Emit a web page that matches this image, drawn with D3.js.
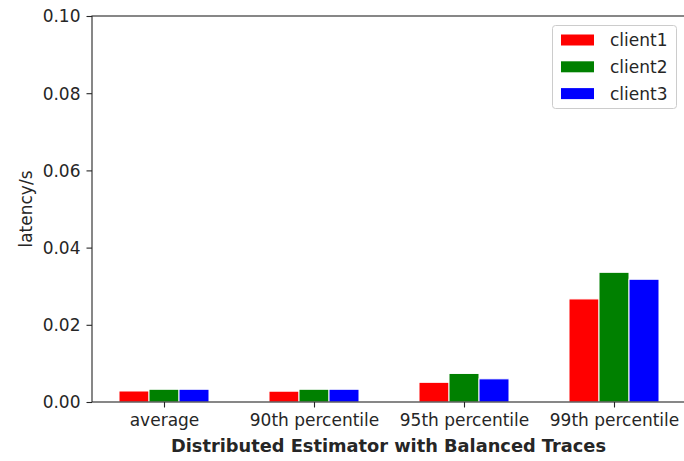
<!DOCTYPE html>
<html>
<head>
<meta charset="utf-8">
<script src="https://cdn.jsdelivr.net/npm/d3@7"></script>
<style>
  html, body { margin: 0; padding: 0; background: #fff; }
  svg { display: block; font-family: "DejaVu Sans", sans-serif; }
</style>
</head>
<body>
<svg id="chart" width="684" height="461"></svg>
<script>
// Latency of each client for each statistic
const categories = ["average", "90th percentile", "95th percentile", "99th percentile"];
const seriesNames = ["client1", "client2", "client3"];
const client1 = [0.00285, 0.0028, 0.0051, 0.0267];
const client2 = [0.0033, 0.0033, 0.0074, 0.0336];
const client3 = [0.0033, 0.0033, 0.0060, 0.0318];
const seriesColors = ["#ff0000", "#008000", "#0000ff"];
const yTicks = [0.00, 0.02, 0.04, 0.06, 0.08, 0.10];
const xTitle = "Distributed Estimator with Balanced Traces";
const yTitle = "latency/s";

const series = [client1, client2, client3];
const barWidth = 0.2;   // in category units
const offsets = [-0.2, 0, 0.2];

const svg = d3.select("#chart");
const plotLeft = 92, plotRight = 686, plotTop = 16, plotBottom = 402;
const fontSize = 17;
const textColor = "#262626";

const x = d3.scaleLinear().domain([-0.48, 3.48]).range([plotLeft, plotRight]);
const y = d3.scaleLinear().domain([0, 0.1]).range([plotBottom, plotTop]);

// bars
series.forEach((vals, si) => {
  svg.append("g")
    .selectAll("rect")
    .data(vals)
    .join("rect")
    .attr("x", (d, i) => x(i + offsets[si] - barWidth / 2))
    .attr("width", x(barWidth) - x(0))
    .attr("y", d => y(d))
    .attr("height", d => y(0) - y(d))
    .attr("fill", seriesColors[si])
    .attr("stroke", "#ffffff")
    .attr("stroke-width", 1);
});

// y axis
const yAxis = svg.append("g")
  .attr("transform", `translate(${plotLeft},0)`)
  .call(d3.axisLeft(y).tickValues(yTicks).tickFormat(d3.format(".2f")).tickSize(5.5).tickPadding(6));
yAxis.select(".domain").remove();

// x axis
const xAxis = svg.append("g")
  .attr("transform", `translate(0,${plotBottom})`)
  .call(d3.axisBottom(x).tickValues(d3.range(categories.length)).tickFormat(i => categories[i]).tickSize(5.5).tickPadding(6));
xAxis.select(".domain").remove();

[yAxis, xAxis].forEach(g => {
  g.selectAll("text").attr("font-size", fontSize).attr("font-family", "DejaVu Sans").attr("fill", textColor);
  g.selectAll("line").attr("stroke", textColor).attr("stroke-width", 1.1);
});
yAxis.selectAll("text").attr("dy", "0.35em");

// frame
svg.append("rect")
  .attr("x", plotLeft).attr("y", plotTop)
  .attr("width", plotRight - plotLeft).attr("height", plotBottom - plotTop)
  .attr("fill", "none").attr("stroke", textColor).attr("stroke-width", 1.1);

// axis titles
svg.append("text")
  .attr("x", 388.5)
  .attr("y", 452)
  .attr("text-anchor", "middle")
  .attr("font-size", 17.8)
  .attr("font-weight", "bold")
  .attr("fill", textColor)
  .text(xTitle);

svg.append("text")
  .attr("transform", `translate(31.5,${(plotTop + plotBottom) / 2}) rotate(-90)`)
  .attr("text-anchor", "middle")
  .attr("font-size", fontSize)
  .attr("fill", textColor)
  .text(yTitle);

// legend
const legend = svg.append("g");
legend.append("rect")
  .attr("x", 552.5).attr("y", 25.5)
  .attr("width", 124).attr("height", 83)
  .attr("rx", 3)
  .attr("fill", "#ffffff").attr("fill-opacity", 0.8)
  .attr("stroke", "#cccccc").attr("stroke-width", 1);
seriesNames.forEach((name, i) => {
  const cy = 40 + i * 26.8;
  legend.append("rect")
    .attr("x", 561).attr("y", cy - 5.5)
    .attr("width", 33).attr("height", 11)
    .attr("fill", seriesColors[i]);
  legend.append("text")
    .attr("x", 610).attr("y", cy)
    .attr("dy", "0.35em")
    .attr("font-size", fontSize)
    .attr("fill", textColor)
    .text(name);
});
</script>
</body>
</html>
